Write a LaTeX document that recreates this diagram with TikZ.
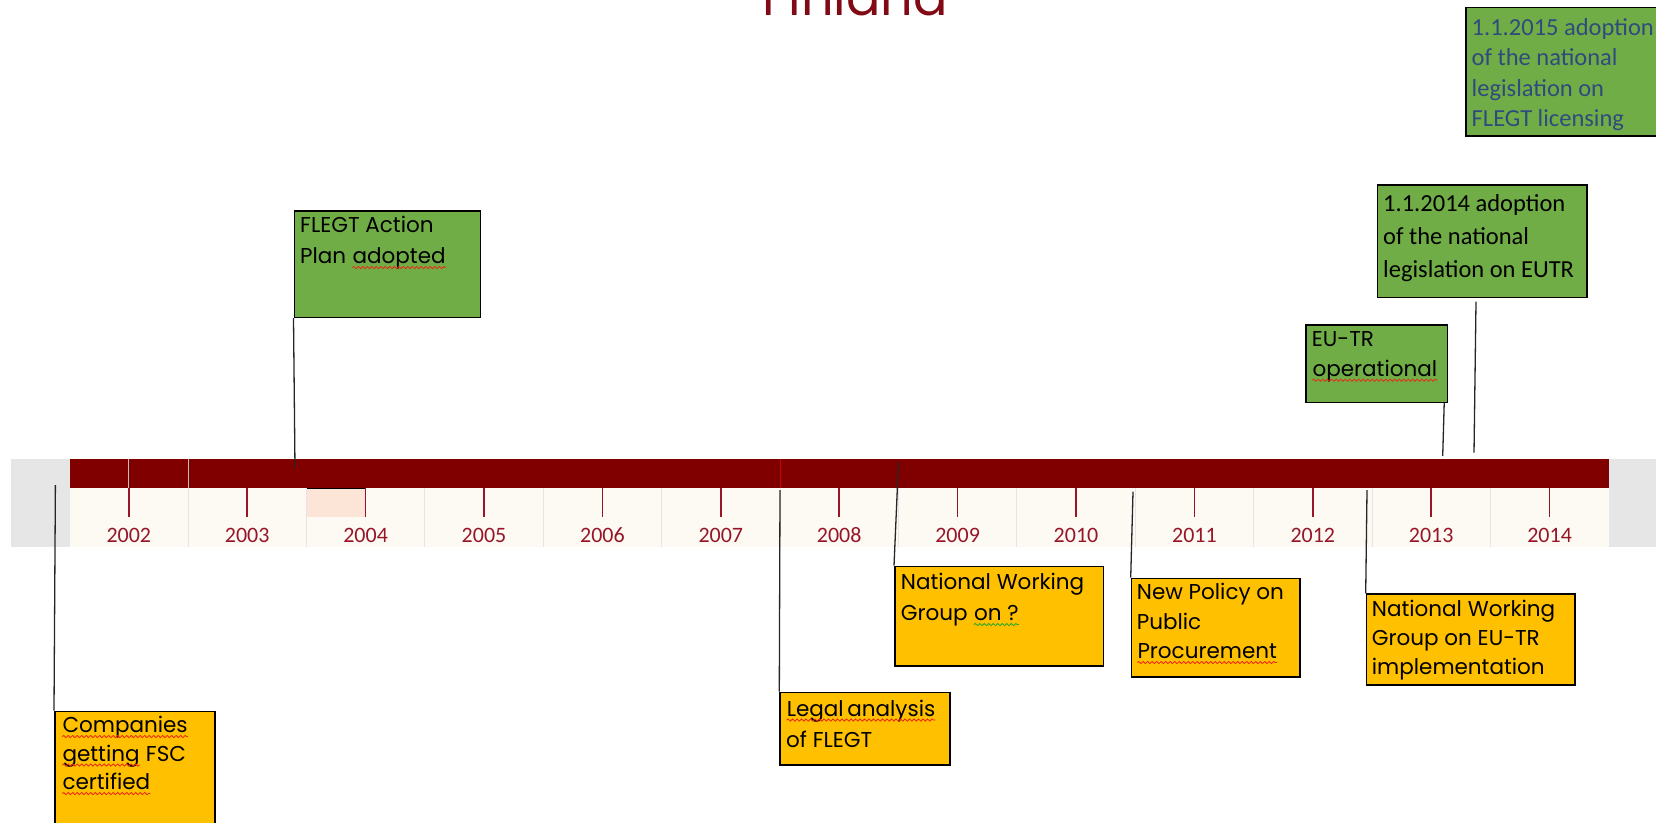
\documentclass[tikz,border=0pt]{standalone}
\usepackage{fontspec}
\setmainfont{Poppins}
\newfontfamily\calfont{Carlito}
\usetikzlibrary{decorations.pathmorphing}
\definecolor{barred}{RGB}{128,0,0}
\definecolor{yearred}{RGB}{150,22,40}
\definecolor{titlered}{RGB}{130,10,20}
\definecolor{boxgreen}{RGB}{112,173,71}
\definecolor{boxorange}{RGB}{255,192,0}
\definecolor{cream}{RGB}{253,250,243}
\definecolor{sidegray}{RGB}{230,230,230}
\definecolor{hilite}{RGB}{252,228,214}
\definecolor{textblue}{RGB}{47,75,125}
\definecolor{spellred}{RGB}{235,40,20}
\definecolor{spellgreen}{RGB}{40,170,40}
\newcommand\wavyword[2]{\tikz[baseline=(wv.base)]{\node[inner sep=0pt, anchor=base, draw=none, fill=none] (wv) at (0,0) {#2};
  \draw[#1, line width=0.8pt, decorate, decoration={snake, amplitude=1.1pt, segment length=4.5pt}] ([yshift=-4pt]wv.base west) -- ([yshift=-4pt]wv.base east);}}
\begin{document}
\begin{tikzpicture}[x=1pt,y=-1pt,
  gbox/.style={draw=black, line width=1.5pt, fill=boxgreen, anchor=north west, inner sep=0pt},
  obox/.style={draw=black, line width=1.5pt, fill=boxorange, anchor=north west, inner sep=0pt},
  txt/.style={anchor=north west, inner sep=0pt, align=left, font=\fontsize{21.5}{31}\selectfont},
  ctxt/.style={anchor=north west, inner sep=0pt, align=left, font=\calfont\fontsize{24.5}{32}\selectfont},
  conn/.style={draw=black!85, line width=1.3pt},
  yeartick/.style={draw=yearred, line width=1.5pt},
  yearlbl/.style={font=\calfont\fontsize{22}{24}\selectfont, text=yearred, inner sep=0pt, anchor=base}]
\useasboundingbox (0,0) rectangle (1656,822);
% title (cut off at top)
\node[font=\fontsize{51}{51}\selectfont, text=titlered, anchor=base, inner sep=0pt] (title) at (855.5,15) {Finland};
% timeline background
\fill[sidegray] (10.7,459.3) rectangle (69.6,547.3);
\fill[sidegray] (1609,459.3) rectangle (1656,547.3);
\fill[cream] (69.6,488.3) rectangle (1609,547.3);
\fill[hilite] (307,488.3) rectangle (365,517.3);
\foreach \k in {1,...,12} {
  \draw[black!10, line width=1pt] ({69.6+\k*118.4},488.3) -- ({69.6+\k*118.4},547.3);
}
\fill[barred] (69.6,459.3) rectangle (1609,488.3);
\draw[black!25, line width=1pt] (128,459.3) -- (128,488.3);
\draw[black!25, line width=1pt] (188,459.3) -- (188,488.3);
\draw[red!80!black, line width=1pt] (780,459.3) -- (780,488.3);
\draw[black, line width=1.3pt] (307,488.8) -- (365,488.8);
% ticks and years
\foreach \y [count=\k from 0] in {2002,...,2014} {
  \draw[yeartick] ({128.8+\k*118.4},488.3) -- ({128.8+\k*118.4},517.3);
  \node[yearlbl] (y\y) at ({128.8+\k*118.4},542) {\y};
}
% boxes
\node[gbox, minimum width=186pt, minimum height=106.5pt] (flegt) at (293.5,210) {};
\node[txt, font=\fontsize{21.5}{31.5}\selectfont] (flegt-t) at (300,215.5) {FLEGT Action\\Plan \wavyword{spellred}{adopted}};

\node[gbox, minimum width=215pt, minimum height=128.3pt] (y2015) at (1465,6.7) {};
\node[ctxt, text=textblue, font=\calfont\fontsize{24.5}{30.5}\selectfont] (y2015-t) at (1471.5,18) {1.1.2015 adoption\\of the national\\legislation on\\FLEGT licensing};

\node[gbox, minimum width=209.3pt, minimum height=112.7pt] (y2014) at (1376.7,184) {};
\node[ctxt, font=\calfont\fontsize{24.5}{33}\selectfont] (y2014-t) at (1383,194.5) {1.1.2014 adoption\\of the national\\legislation on EUTR};

\node[gbox, minimum width=141.7pt, minimum height=77.4pt] (eutr) at (1305,324.3) {};
\node[txt, font=\fontsize{21.5}{30}\selectfont] (eutr-t) at (1311.7,331) {EU-TR\\\wavyword{spellred}{operational}};

\node[obox, minimum width=160.3pt, minimum height=140pt] (comp) at (54,710.7) {};
\node[txt, font=\fontsize{21.5}{28.5}\selectfont] (comp-t) at (61.7,716) {\wavyword{spellred}{Companies}\\\wavyword{spellred}{getting} FSC\\\wavyword{spellred}{certified}};

\node[obox, minimum width=170pt, minimum height=72.3pt] (legal) at (779.3,691.7) {};
\node[txt] (legal-t) at (786,699.5) {\wavyword{spellred}{Legal\,analysis}\\of FLEGT};

\node[obox, minimum width=208.7pt, minimum height=99.3pt] (nwg) at (894,565.7) {};
\node[txt] (nwg-t) at (900.7,573) {National Working\\Group \wavyword{spellgreen}{on ?}};

\node[obox, minimum width=168.3pt, minimum height=98.3pt] (policy) at (1130.7,577.7) {};
\node[txt, font=\fontsize{21.5}{29.5}\selectfont] (policy-t) at (1136.7,583) {New Policy on\\Public\\\wavyword{spellred}{Procurement}};

\node[obox, minimum width=208.3pt, minimum height=91pt] (nwg2) at (1365.7,593.3) {};
\node[txt, font=\fontsize{21.5}{29}\selectfont] (nwg2-t) at (1371.7,600) {National Working\\Group on EU-TR\\implementation};
% connectors
\coordinate (a-comp) at (55.4,485);
\coordinate (a-flegt) at (295,468.3);
\coordinate (a-legal) at (780,490);
\coordinate (a-nwg) at (898.5,461.7);
\coordinate (a-policy) at (1133,491.7);
\coordinate (a-nwg2) at (1367,490);
\coordinate (a-eutr) at (1442.7,456);
\coordinate (a-2014top) at (1476,301.7);
\coordinate (a-2014bot) at (1474,452.7);
\draw[conn] (a-comp) -- (comp.north west);
\draw[conn] (flegt.south west) -- (a-flegt);
\draw[conn] (a-legal) -- (legal.north west);
\draw[conn] (a-nwg) -- (nwg.north west);
\draw[conn] (a-policy) -- (policy.north west);
\draw[conn] (a-nwg2) -- (nwg2.north west);
\draw[conn] ([xshift=-4pt]eutr.south east) -- (a-eutr);
\draw[conn] (a-2014top) -- (a-2014bot);
\end{tikzpicture}
\end{document}
